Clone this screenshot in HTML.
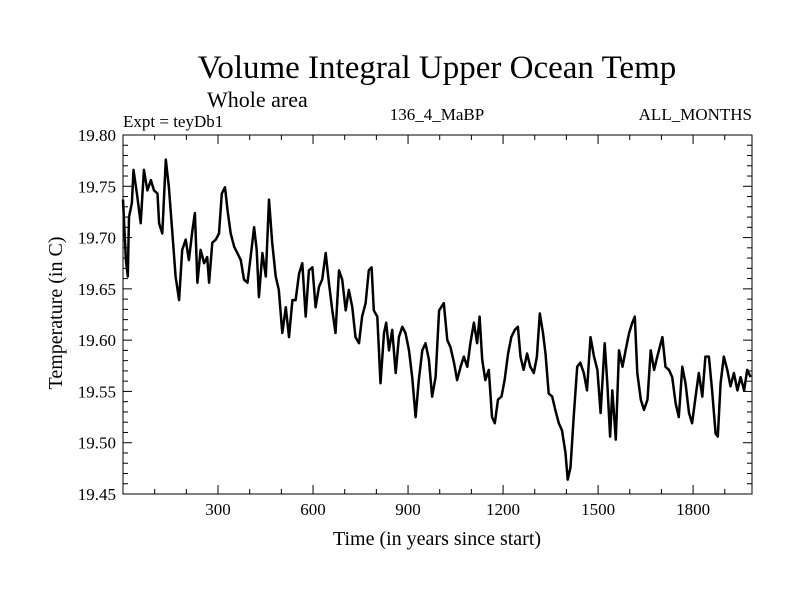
<!DOCTYPE html>
<html><head><meta charset="utf-8"><style>
body{margin:0;background:#fff;width:800px;height:600px;overflow:hidden}
svg text{font-family:"Liberation Serif",serif;fill:#000}
</style></head><body>
<svg id="chart" width="800" height="600" viewBox="0 0 800 600">
<text x="437" y="78" font-size="33" text-anchor="middle">Volume Integral Upper Ocean Temp</text>
<text x="207" y="107" font-size="22">Whole area</text>
<text x="123" y="127" font-size="17">Expt = teyDb1</text>
<text x="437" y="120" font-size="17" text-anchor="middle">136_4_MaBP</text>
<text x="752" y="120" font-size="17" text-anchor="end">ALL_MONTHS</text>
<text x="437" y="545" font-size="20" text-anchor="middle">Time (in years since start)</text>
<text x="0" y="0" font-size="20" text-anchor="middle" transform="translate(62,313) rotate(-90)">Temperature (in C)</text>
<g id="axes"></g>
<path id="series" fill="none" stroke="#000" stroke-width="2.5" stroke-linejoin="round"/>
<rect x="123" y="135" width="629" height="359" fill="none" stroke="#000" stroke-width="1"/>
</svg>
<script>
const years=[0,9,15,19,28,33,44,56,66,77,88,98,109,114,124,135,145,156,166,177,187,198,208,219,227,235,245,256,266,272,282,293,303,312,322,330,340,351,361,372,382,393,403,414,422,429,440,451,461,471,482,492,503,514,524,535,545,556,566,577,587,598,608,619,629,640,650,661,671,682,692,703,713,724,734,745,755,766,776,785,792,803,813,824,831,840,850,861,871,882,892,903,913,924,934,945,955,966,976,987,998,1013,1024,1034,1045,1055,1066,1076,1087,1097,1108,1118,1126,1134,1144,1155,1165,1174,1184,1195,1205,1216,1226,1237,1247,1255,1265,1276,1286,1297,1307,1316,1326,1334,1344,1355,1365,1376,1386,1397,1404,1413,1423,1434,1444,1455,1465,1476,1487,1498,1508,1521,1529,1538,1545,1556,1566,1577,1587,1598,1608,1616,1624,1635,1645,1656,1666,1677,1687,1703,1713,1724,1734,1745,1755,1766,1776,1787,1797,1808,1818,1829,1839,1850,1860,1871,1878,1887,1897,1908,1918,1929,1940,1950,1961,1971,1982];
const temps=[19.737,19.678,19.662,19.720,19.734,19.766,19.743,19.714,19.766,19.746,19.756,19.746,19.743,19.714,19.704,19.776,19.749,19.704,19.662,19.639,19.688,19.698,19.678,19.707,19.724,19.656,19.688,19.675,19.681,19.656,19.695,19.698,19.704,19.743,19.749,19.727,19.704,19.691,19.685,19.678,19.659,19.656,19.681,19.710,19.688,19.642,19.685,19.662,19.737,19.695,19.662,19.649,19.607,19.632,19.603,19.639,19.639,19.665,19.675,19.623,19.668,19.671,19.632,19.652,19.659,19.685,19.656,19.629,19.607,19.668,19.659,19.629,19.649,19.632,19.603,19.597,19.623,19.636,19.668,19.671,19.629,19.623,19.558,19.607,19.617,19.590,19.610,19.568,19.603,19.613,19.607,19.590,19.564,19.525,19.561,19.590,19.597,19.581,19.545,19.564,19.629,19.636,19.600,19.593,19.578,19.561,19.574,19.584,19.574,19.597,19.617,19.597,19.623,19.581,19.561,19.571,19.525,19.519,19.542,19.545,19.561,19.587,19.603,19.610,19.613,19.584,19.571,19.587,19.574,19.568,19.584,19.626,19.607,19.587,19.548,19.545,19.532,19.519,19.512,19.490,19.464,19.476,19.525,19.574,19.578,19.568,19.551,19.603,19.584,19.571,19.529,19.597,19.558,19.506,19.551,19.503,19.590,19.574,19.590,19.607,19.617,19.623,19.568,19.542,19.532,19.542,19.590,19.571,19.584,19.603,19.574,19.571,19.564,19.538,19.525,19.574,19.558,19.529,19.519,19.545,19.568,19.545,19.584,19.584,19.551,19.509,19.506,19.558,19.584,19.571,19.555,19.568,19.551,19.564,19.551,19.571,19.564];
const xTicks=[300,600,900,1200,1500,1800];
const yTicks=[19.45,19.50,19.55,19.60,19.65,19.70,19.75,19.80];
const X0=123,X1=752,Y0=494,Y1=135;
const xMin=0,xMax=1986,yMin=19.45,yMax=19.80;
function sx(v){return X0+(v-xMin)/(xMax-xMin)*(X1-X0);}
function sy(v){return Y0-(v-yMin)/(yMax-yMin)*(Y0-Y1);}
const NS='http://www.w3.org/2000/svg';
const axes=document.getElementById('axes');
function line(x1,y1,x2,y2,name){
  const l=document.createElementNS(NS,'line');
  l.setAttribute('x1',x1);l.setAttribute('y1',y1);l.setAttribute('x2',x2);l.setAttribute('y2',y2);
  l.setAttribute('stroke','#000');l.setAttribute('stroke-width','1');
  
  
  axes.appendChild(l);
}
function label(x,y,t,anchor,name){
  const e=document.createElementNS(NS,'text');
  e.setAttribute('x',x);e.setAttribute('y',y);e.setAttribute('font-size','17');e.setAttribute('text-anchor',anchor);
  e.textContent=t;
  
  
  axes.appendChild(e);
}
for(let v=100;v<xMax;v+=100){
  const major=xTicks.includes(v),L=major?9:5,x=sx(v);
  line(x,Y0,x,Y0-L,'x-tick');
  line(x,Y1,x,Y1+L,'x-tick-top');
}
xTicks.forEach(v=>label(sx(v),515,String(v),'middle','x-tick-label'));
for(let i=0;i<=35;i++){
  const v=yMin+i*0.01,major=i%5===0,L=major?9:5,y=sy(v);
  line(X0,y,X0+L,y,'y-tick');
  line(X1,y,X1-L,y,'y-tick-right');
}
yTicks.forEach(v=>label(116,sy(v)+6,v.toFixed(2),'end','y-tick-label'));
let d='';
years.forEach((yr,i)=>{d+=(i?'L':'M')+sx(yr).toFixed(1)+' '+sy(temps[i]).toFixed(1);});
document.getElementById('series').setAttribute('d',d);
</script>
</body></html>
